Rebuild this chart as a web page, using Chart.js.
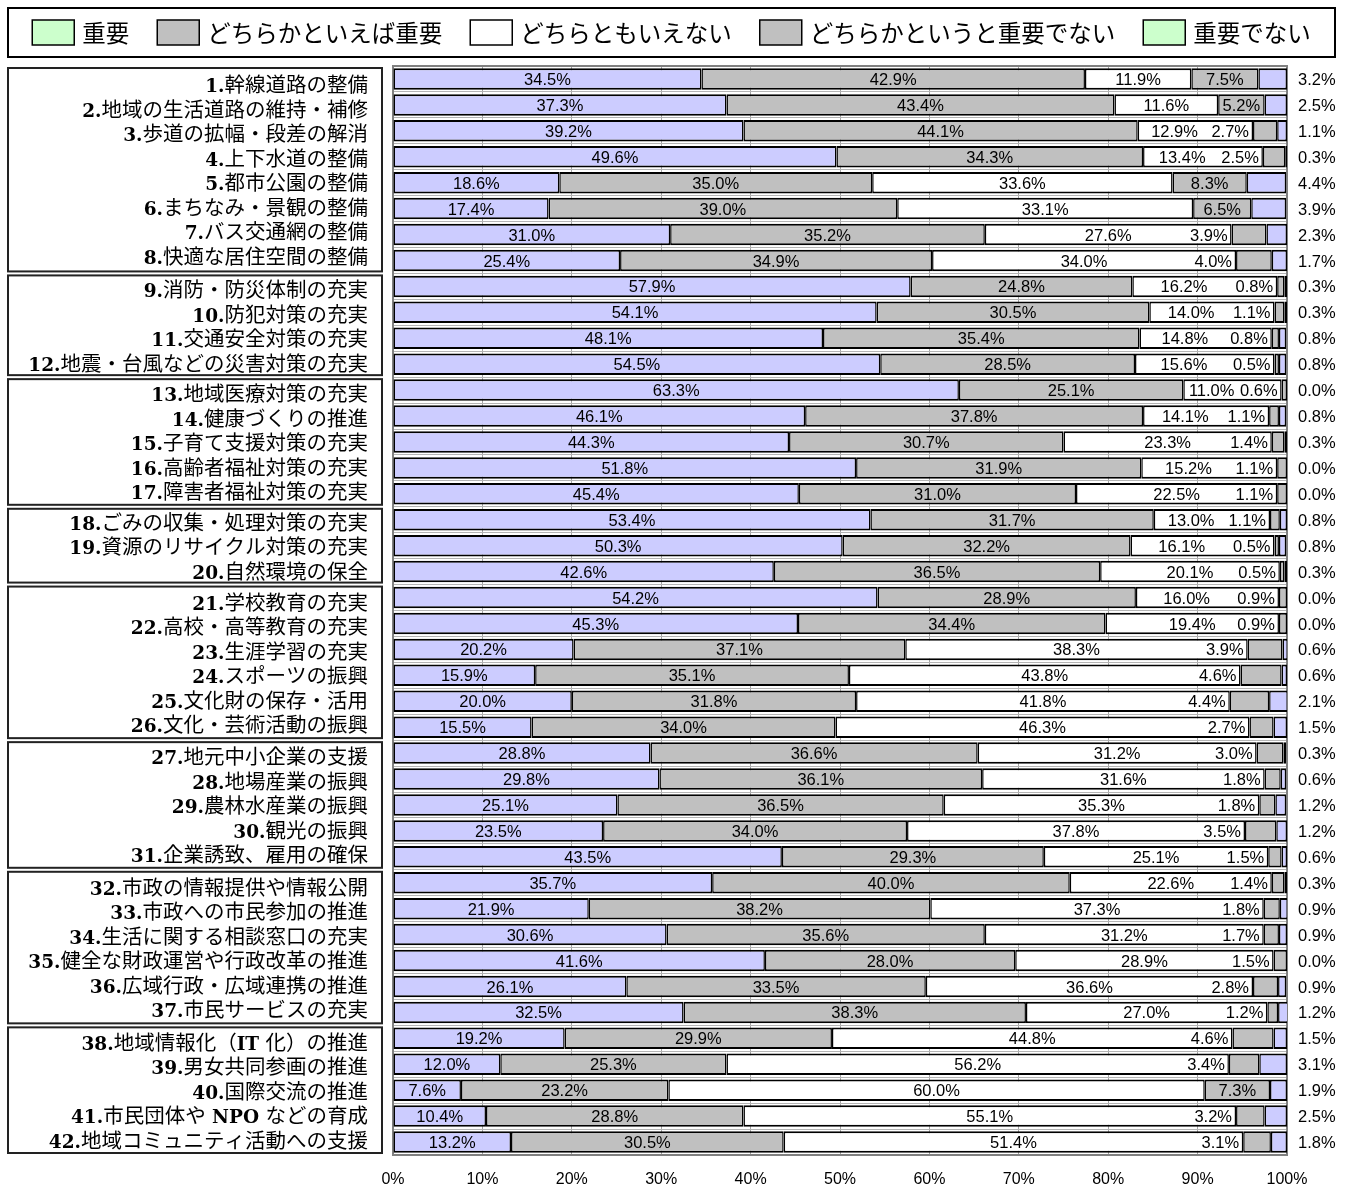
<!DOCTYPE html>
<html lang="ja">
<head>
<meta charset="utf-8">
<title>施策の重要度</title>
<script src="https://cdn.jsdelivr.net/npm/chart.js@4.4.1/dist/chart.umd.min.js"></script>
<style>
  html, body { margin: 0; padding: 0; background: #ffffff; }
  #wrap { width: 1351px; height: 1189px; }
</style>
</head>
<body>
<div id="wrap"><canvas id="chart" width="1351" height="1189"></canvas></div>
<script>
// 施策項目（上から順に）
const categories = [
  '1.幹線道路の整備', '2.地域の生活道路の維持・補修', '3.歩道の拡幅・段差の解消', '4.上下水道の整備',
  '5.都市公園の整備', '6.まちなみ・景観の整備', '7.バス交通網の整備', '8.快適な居住空間の整備',
  '9.消防・防災体制の充実', '10.防犯対策の充実', '11.交通安全対策の充実', '12.地震・台風などの災害対策の充実',
  '13.地域医療対策の充実', '14.健康づくりの推進', '15.子育て支援対策の充実', '16.高齢者福祉対策の充実',
  '17.障害者福祉対策の充実',
  '18.ごみの収集・処理対策の充実', '19.資源のリサイクル対策の充実', '20.自然環境の保全',
  '21.学校教育の充実', '22.高校・高等教育の充実', '23.生涯学習の充実', '24.スポーツの振興',
  '25.文化財の保存・活用', '26.文化・芸術活動の振興',
  '27.地元中小企業の支援', '28.地場産業の振興', '29.農林水産業の振興', '30.観光の振興', '31.企業誘致、雇用の確保',
  '32.市政の情報提供や情報公開', '33.市政への市民参加の推進', '34.生活に関する相談窓口の充実',
  '35.健全な財政運営や行政改革の推進', '36.広域行政・広域連携の推進', '37.市民サービスの充実',
  '38.地域情報化（IT 化）の推進', '39.男女共同参画の推進', '40.国際交流の推進',
  '41.市民団体や NPO などの育成', '42.地域コミュニティ活動への支援'
];

// 分野ごとの項目数（左側の枠）
const groupSizes = [8, 4, 5, 3, 6, 5, 6, 5];

const seriesNames = ['重要', 'どちらかといえば重要', 'どちらともいえない', 'どちらかというと重要でない', '重要でない'];

const important = [34.5, 37.3, 39.2, 49.6, 18.6, 17.4, 31.0, 25.4, 57.9, 54.1, 48.1, 54.5, 63.3, 46.1, 44.3, 51.8, 45.4,
  53.4, 50.3, 42.6, 54.2, 45.3, 20.2, 15.9, 20.0, 15.5, 28.8, 29.8, 25.1, 23.5, 43.5, 35.7, 21.9, 30.6, 41.6, 26.1, 32.5,
  19.2, 12.0, 7.6, 10.4, 13.2];
const ratherImportant = [42.9, 43.4, 44.1, 34.3, 35.0, 39.0, 35.2, 34.9, 24.8, 30.5, 35.4, 28.5, 25.1, 37.8, 30.7, 31.9, 31.0,
  31.7, 32.2, 36.5, 28.9, 34.4, 37.1, 35.1, 31.8, 34.0, 36.6, 36.1, 36.5, 34.0, 29.3, 40.0, 38.2, 35.6, 28.0, 33.5, 38.3,
  29.9, 25.3, 23.2, 28.8, 30.5];
const neither = [11.9, 11.6, 12.9, 13.4, 33.6, 33.1, 27.6, 34.0, 16.2, 14.0, 14.8, 15.6, 11.0, 14.1, 23.3, 15.2, 22.5,
  13.0, 16.1, 20.1, 16.0, 19.4, 38.3, 43.8, 41.8, 46.3, 31.2, 31.6, 35.3, 37.8, 25.1, 22.6, 37.3, 31.2, 28.9, 36.6, 27.0,
  44.8, 56.2, 60.0, 55.1, 51.4];
const ratherNotImportant = [7.5, 5.2, 2.7, 2.5, 8.3, 6.5, 3.9, 4.0, 0.8, 1.1, 0.8, 0.5, 0.6, 1.1, 1.4, 1.1, 1.1,
  1.1, 0.5, 0.5, 0.9, 0.9, 3.9, 4.6, 4.4, 2.7, 3.0, 1.8, 1.8, 3.5, 1.5, 1.4, 1.8, 1.7, 1.5, 2.8, 1.2,
  4.6, 3.4, 7.3, 3.2, 3.1];
const notImportant = [3.2, 2.5, 1.1, 0.3, 4.4, 3.9, 2.3, 1.7, 0.3, 0.3, 0.8, 0.8, 0.0, 0.8, 0.3, 0.0, 0.0,
  0.8, 0.8, 0.3, 0.0, 0.0, 0.6, 0.6, 2.1, 1.5, 0.3, 0.6, 1.2, 1.2, 0.6, 0.3, 0.9, 0.9, 0.0, 0.9, 1.2,
  1.5, 3.1, 1.9, 2.5, 1.8];

const xTicks = [0, 10, 20, 30, 40, 50, 60, 70, 80, 90, 100];

const series = [important, ratherImportant, neither, ratherNotImportant, notImportant];

// 描画スタイル
const barColors = ['#ccccff', '#c0c0c0', '#ffffff', '#c0c0c0', '#ccccff'];
const legendColors = ['#ccffcc', '#c0c0c0', '#ffffff', '#c0c0c0', '#ccffcc'];
const CJK = '"Noto Sans CJK JP", "Noto Sans", sans-serif';
const VALUE_FONT = '16.5px "Liberation Sans", Arial, sans-serif';
const LATIN_LABEL_FONT = 'bold 18.5px "DejaVu Serif", serif';
const CJK_LABEL_FONT = '20.5px ' + CJK;

// 凡例（枠付き、上部中央）
const legendBox = {
  id: 'legendBox',
  afterDraw(chart) {
    const ctx = chart.ctx;
    const L = 8, T = 8, R = 1335, B = 57;
    ctx.save();
    ctx.lineWidth = 2;
    ctx.strokeStyle = '#000';
    ctx.strokeRect(L, T, R - L, B - T);
    ctx.font = '23.5px ' + CJK;
    const boxW = 42, boxH = 25, textGap = 8, itemGap = 28;
    const widths = seriesNames.map(n => boxW + textGap + ctx.measureText(n).width);
    const total = widths.reduce((a, b) => a + b, 0) + itemGap * (widths.length - 1);
    let x = (L + R) / 2 - total / 2;
    const cy = (T + B) / 2;
    ctx.textBaseline = 'middle';
    ctx.textAlign = 'left';
    seriesNames.forEach((n, i) => {
      ctx.fillStyle = legendColors[i];
      ctx.fillRect(x, cy - boxH / 2, boxW, boxH);
      ctx.lineWidth = 1.5;
      ctx.strokeStyle = '#000';
      ctx.strokeRect(x, cy - boxH / 2, boxW, boxH);
      ctx.fillStyle = '#000';
      ctx.fillText(n, x + boxW + textGap, cy + 1);
      x += widths[i] + itemGap;
    });
    ctx.restore();
  }
};

// 描画領域の枠
const plotFrame = {
  id: 'plotFrame',
  beforeDatasetsDraw(chart) {
    const { ctx, chartArea: a } = chart;
    ctx.save();
    ctx.lineWidth = 2;
    ctx.strokeStyle = '#808080';
    ctx.strokeRect(a.left, a.top, a.right - a.left, a.bottom - a.top);
    ctx.restore();
  }
};

// 左側の項目名と分野の枠
const groupLabels = {
  id: 'groupLabels',
  afterDraw(chart) {
    const ctx = chart.ctx;
    const y = chart.scales.y;
    const half = (y.getPixelForValue(1) - y.getPixelForValue(0)) / 2;
    const boxL = 8, boxR = 382, textR = 368, pitch = 24.5;
    ctx.save();
    let start = 0;
    groupSizes.forEach(n => {
      const top = y.getPixelForValue(start) - half + 2;
      const bottom = y.getPixelForValue(start + n - 1) + half - 2;
      ctx.lineWidth = 2;
      ctx.strokeStyle = '#222';
      ctx.strokeRect(boxL, top, boxR - boxL, bottom - top);
      const mid = (top + bottom) / 2;
      for (let k = 0; k < n; k++) {
        const ly = mid + (k - (n - 1) / 2) * pitch + 1;
        drawMixed(ctx, categories[start + k], textR, ly + 7.5);
      }
      start += n;
    });
    ctx.restore();
  }
};

// 英数字は太字のセリフ体、和文はゴシック体で描く（共通のベースライン）
function drawMixed(ctx, text, right, baseline) {
  const runs = [];
  for (const ch of text) {
    const latin = /[\x20-\x7E]/.test(ch);
    if (runs.length && runs[runs.length - 1].latin === latin) runs[runs.length - 1].s += ch;
    else runs.push({ latin, s: ch });
  }
  let total = 0;
  runs.forEach(r => {
    ctx.font = r.latin ? LATIN_LABEL_FONT : CJK_LABEL_FONT;
    r.w = ctx.measureText(r.s).width;
    total += r.w;
  });
  let x = right - total;
  ctx.fillStyle = '#000';
  ctx.textBaseline = 'alphabetic';
  ctx.textAlign = 'left';
  runs.forEach(r => {
    ctx.font = r.latin ? LATIN_LABEL_FONT : CJK_LABEL_FONT;
    ctx.fillText(r.s, x, baseline);
    x += r.w;
  });
}

// 各区分の割合ラベル
const valueLabels = {
  id: 'valueLabels',
  afterDatasetsDraw(chart) {
    const ctx = chart.ctx;
    const area = chart.chartArea;
    const metas = series.map((_, i) => chart.getDatasetMeta(i));
    ctx.save();
    ctx.font = VALUE_FONT;
    ctx.fillStyle = '#000';
    ctx.textBaseline = 'middle';
    for (let r = 0; r < categories.length; r++) {
      const segs = metas.map(m => {
        const e = m.data[r];
        return { l: Math.min(e.base, e.x), r: Math.max(e.base, e.x), y: e.y + 1.5 };
      });
      const txt = series.map(s => s[r].toFixed(1) + '%');
      const w = txt.map(t => ctx.measureText(t).width);
      // 1・2番目は区分の中央
      ctx.textAlign = 'center';
      for (let i = 0; i < 2; i++) ctx.fillText(txt[i], (segs[i].l + segs[i].r) / 2, segs[i].y);
      // 4番目：幅が狭い場合は区分の左側へ寄せる
      let fourthLeft = Infinity;
      if (series[3][r] < 5) {
        const right = segs[3].l - 4;
        ctx.textAlign = 'right';
        ctx.fillText(txt[3], right, segs[3].y);
        fourthLeft = right - w[3];
      } else {
        ctx.textAlign = 'center';
        ctx.fillText(txt[3], (segs[3].l + segs[3].r) / 2, segs[3].y);
      }
      // 3番目：4番目のラベルと重なる場合は残りの幅の中央
      ctx.textAlign = 'center';
      let c3 = (segs[2].l + segs[2].r) / 2;
      if (c3 + w[2] / 2 + 20 > fourthLeft) c3 = (segs[2].l + fourthLeft) / 2;
      ctx.fillText(txt[2], c3, segs[2].y);
      // 5番目は棒の右外側
      ctx.textAlign = 'left';
      ctx.fillText(txt[4], area.right + 11, segs[4].y);
    }
    ctx.restore();
  }
};

new Chart(document.getElementById('chart'), {
  type: 'bar',
  data: {
    labels: categories,
    datasets: series.map((data, i) => ({
      label: seriesNames[i],
      data,
      backgroundColor: barColors[i],
      borderColor: '#000000',
      borderWidth: { top: 2, bottom: 2, left: 1.5, right: 1.5 },
      borderSkipped: false,
      barPercentage: 0.83,
      categoryPercentage: 1
    }))
  },
  options: {
    indexAxis: 'y',
    responsive: false,
    animation: false,
    layout: { padding: { left: 393, right: 64, top: 66, bottom: 0 } },
    scales: {
      x: {
        stacked: true,
        min: 0,
        max: 100,
        afterBuildTicks: scale => { scale.ticks = xTicks.map(v => ({ value: v })); },
        afterFit: scale => { scale.height = 34; },
        ticks: {
          callback: v => v + '%',
          color: '#000',
          font: { family: '"Liberation Sans", Arial, sans-serif', size: 16 },
          padding: 15,
          maxRotation: 0
        },
        grid: { color: '#a6a6a6', lineWidth: 1, drawTicks: false },
        border: { display: false }
      },
      y: {
        stacked: true,
        display: true,
        afterFit: scale => { scale.width = 0; },
        ticks: { display: false },
        grid: { color: '#b4b4b4', lineWidth: 1, drawTicks: false, offset: true },
        border: { display: false }
      }
    },
    plugins: {
      legend: { display: false },
      tooltip: { enabled: false }
    }
  },
  plugins: [plotFrame, valueLabels, groupLabels, legendBox]
});
</script>
</body>
</html>
